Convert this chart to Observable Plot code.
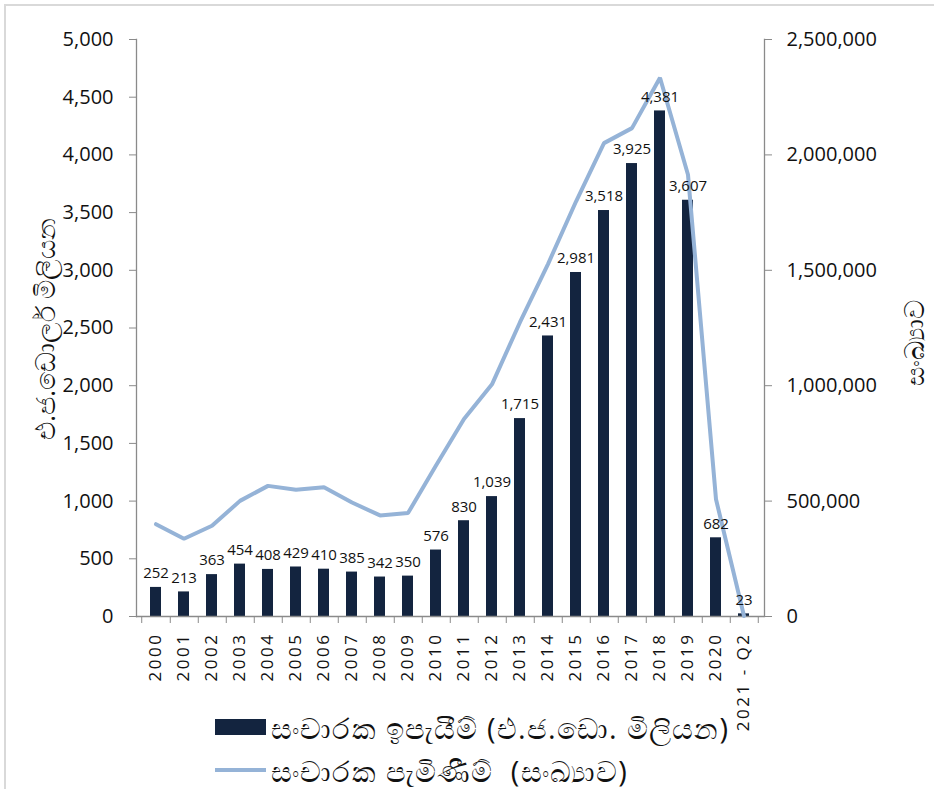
<!DOCTYPE html>
<html>
<head>
<meta charset="utf-8">
<script src="https://cdn.jsdelivr.net/npm/d3@7"></script>
<script src="https://cdn.jsdelivr.net/npm/@observablehq/plot@0.6"></script>
<style>
  body { margin: 0; background: #fff; }
  #wrap { position: relative; width: 934px; height: 789px; overflow: hidden; font-family: "Open Sans", "Noto Sans", sans-serif; color: #111; }
  #border { position: absolute; left: 4px; top: 4px; width: 940px; height: 800px; border-top: 2px solid #d9d9d9; border-left: 2px solid #d9d9d9; }
  .ytitle { position: absolute; font-size: 27px; white-space: nowrap; transform: translate(-50%, -50%) rotate(-90deg); }
  .row { position: absolute; left: 215px; display: flex; align-items: center; height: 40px; font-size: 29px; letter-spacing: 1.2px; white-space: pre; transform: translateY(-50%); }
  .sw { width: 51px; margin-right: 5px; }
</style>
</head>
<body>
<div id="wrap">
  <div id="border"></div>
  <div id="chart"></div>
  <div class="ytitle" id="ltitle" style="left:44px; top:329px;"></div>
  <div class="ytitle" id="rtitle" style="left:913px; top:343px;"></div>
  <div class="row" style="top:727px;"><div class="sw" style="height:16px; background:#13243f;"></div><span id="leg1"></span></div>
  <div class="row" style="top:770px;"><div class="sw" style="height:4px; background:#95b3d7;"></div><span id="leg2"></span></div>
</div>
<script>
// ---- data ----
const categories = ["2000","2001","2002","2003","2004","2005","2006","2007","2008","2009","2010","2011","2012","2013","2014","2015","2016","2017","2018","2019","2020","2021 - Q2"];
const earnings = [252, 213, 363, 454, 408, 429, 410, 385, 342, 350, 576, 830, 1039, 1715, 2431, 2981, 3518, 3925, 4381, 3607, 682, 23];
const arrivals = [400000, 337000, 393000, 501000, 566000, 549000, 560000, 494000, 438000, 448000, 654000, 856000, 1006000, 1275000, 1527000, 1798000, 2051000, 2116000, 2334000, 1914000, 508000, 2000];
const leftTicks = [0, 500, 1000, 1500, 2000, 2500, 3000, 3500, 4000, 4500, 5000];
const rightTicks = [0, 500000, 1000000, 1500000, 2000000, 2500000];
const leftTitle = "එ.ජ.ඩොලර් මිලියන";
const rightTitle = "සංඛ්‍යාව";
const seriesBar = "සංචාරක ඉපැයීම් (එ.ජ.ඩො. මිලියන)";
const seriesLine = "සංචාරක පැමිණීම්  (සංඛ්‍යාව)";

document.getElementById("ltitle").textContent = leftTitle;
document.getElementById("rtitle").textContent = rightTitle;
document.getElementById("leg1").textContent = seriesBar;
document.getElementById("leg2").textContent = seriesLine;

const data = categories.map((c, i) => ({cat: c, earn: earnings[i], arr: arrivals[i]}));
const ratio = rightTicks[rightTicks.length - 1] / leftTicks[leftTicks.length - 1];
const fmt = d3.format(",");

const W = 934, H = 789, mL = 136, mR = 170, mT = 39, mB = 173;
const step = (W - mL - mR) / categories.length;
const gray = "#8a8a8a";
const navy = "#13243f";
const blue = "#95b3d7";

const chart = Plot.plot({
  width: W, height: H,
  marginLeft: mL, marginRight: mR, marginTop: mT, marginBottom: mB,
  style: {fontFamily: "'Open Sans', 'Noto Sans', sans-serif", color: "#111", background: "transparent"},
  x: {type: "band", domain: categories, paddingInner: 0.6, paddingOuter: 0.3, align: 0.5},
  y: {domain: [0, 5000]},
  marks: [
    Plot.barY(data, {x: "cat", y: "earn", fill: navy}),
    Plot.ruleY([0], {stroke: gray, strokeWidth: 1.3}),
    Plot.frame({anchor: "left", stroke: gray, strokeWidth: 1.3}),
    Plot.frame({anchor: "right", stroke: gray, strokeWidth: 1.3}),
    Plot.line(data, {x: "cat", y: d => d.arr / ratio, stroke: blue, strokeWidth: 4, strokeLinejoin: "miter"}),
    Plot.text(data, {x: "cat", y: "earn", text: d => fmt(d.earn), dy: -14, fontSize: 15, fill: "#111"}),
    Plot.axisY({anchor: "left", ticks: leftTicks, tickFormat: fmt, tickSize: 7, tickPadding: 16, fontSize: 20, stroke: gray, label: null}),
    Plot.axisY({anchor: "right", ticks: rightTicks.map(v => v / ratio), tickFormat: d => fmt(d * ratio), tickSize: 7, tickPadding: 15, fontSize: 20, stroke: gray, label: null}),
    Plot.axisX({anchor: "bottom", tickSize: 0, tickPadding: 16, tickRotate: -90, fontSize: 17, label: null}),
    Plot.axisX({anchor: "bottom", text: null, tickSize: 7, dx: step / 2, stroke: gray, label: null}),
    Plot.axisX({anchor: "bottom", ticks: [categories[0]], text: null, tickSize: 7, dx: -step / 2, stroke: gray, label: null})
  ]
});
document.getElementById("chart").appendChild(chart);
d3.select(chart).selectAll("g[aria-label='x-axis tick label'] text").attr("letter-spacing", "2.5px");
</script>
</body>
</html>
